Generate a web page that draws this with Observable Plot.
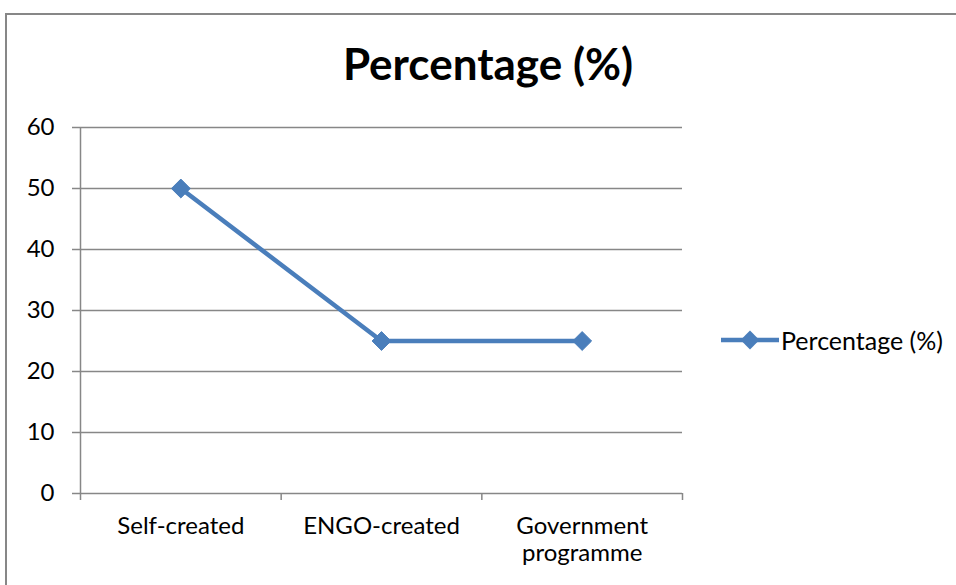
<!DOCTYPE html>
<html>
<head>
<meta charset="utf-8">
<script src="https://cdn.jsdelivr.net/npm/d3@7"></script>
<script src="https://cdn.jsdelivr.net/npm/@observablehq/plot@0.6"></script>
<style>
  html, body { margin: 0; padding: 0; background: #fff; }
  #wrap { position: relative; width: 956px; height: 585px; overflow: hidden; font-family: Lato, "Open Sans", sans-serif; }
  #frame { position: absolute; left: 5px; top: 13px; width: 980px; height: 620px; border: 2px solid #878787; box-sizing: border-box; }
  #title { position: absolute; left: 0; width: 976px; top: 41px; text-align: center; font-weight: bold; font-size: 44px; line-height: 1; color: #000; }
  #chart { position: absolute; left: 0; top: 0; }
  #legend { position: absolute; left: 720px; top: 326px; height: 28px; display: flex; align-items: center; font-size: 25px; color: #000; }
  #legend span { margin-left: 1px; }
</style>
</head>
<body>
<div id="wrap">
  <div id="frame"></div>
  <div id="title">Percentage (%)</div>
  <div id="chart"></div>
  <div id="legend"></div>
</div>
<script>
const categories = ["Self-created", "ENGO-created", "Government\nprogramme"];
const seriesName = "Percentage (%)";
const values = [50, 25, 25];
const yTicks = [0, 10, 20, 30, 40, 50, 60];

const data = categories.map((c, i) => ({category: c, index: i, value: values[i]}));
const boundaries = d3.range(-0.5, categories.length, 1);

const blue = "#4a7ebb";
const gray = "#878787";

const chart = Plot.plot({
  width: 956,
  height: 585,
  marginLeft: 80,
  marginRight: 274,
  marginTop: 127,
  marginBottom: 92,
  style: {fontFamily: "Lato, 'Open Sans', sans-serif", fontSize: "24px", color: "#000", background: "transparent", overflow: "visible"},
  x: {type: "linear", domain: [-0.5, categories.length - 0.5], axis: null},
  y: {domain: [0, 60], axis: null},
  marks: [
    Plot.gridY(yTicks.filter(d => d > 0), {stroke: gray, strokeOpacity: 1, strokeWidth: 1.5}),
    Plot.ruleY([0], {stroke: gray, strokeWidth: 1.5}),
    Plot.ruleX([-0.5], {stroke: gray, strokeWidth: 1.5}),
    Plot.axisY({ticks: yTicks, tickSize: 8, tickPadding: 18, stroke: gray, strokeWidth: 1.5, strokeOpacity: 1, fontSize: 24, fill: "#000", label: null}),
    Plot.axisX({ticks: boundaries, tickSize: 7, tickFormat: () => "", stroke: gray, strokeWidth: 1.5, strokeOpacity: 1, label: null}),
    Plot.axisX({ticks: categories.map((_, i) => i), tickSize: 0, tickPadding: 21, tickFormat: i => categories[i], fontSize: 24, lineHeight: 1.13, fill: "#000", label: null}),
    Plot.line(data, {x: "index", y: "value", stroke: blue, strokeWidth: 4.5}),
    Plot.dot(data, {x: "index", y: "value", symbol: "diamond2", r: 8.5, fill: blue, stroke: blue, strokeWidth: 1})
  ]
});
document.getElementById("chart").appendChild(chart);

// legend
const lg = document.getElementById("legend");
const ns = "http://www.w3.org/2000/svg";
const sw = document.createElementNS(ns, "svg");
sw.setAttribute("width", 60); sw.setAttribute("height", 28);
const ln = document.createElementNS(ns, "line");
ln.setAttribute("x1", 1); ln.setAttribute("x2", 59); ln.setAttribute("y1", 14); ln.setAttribute("y2", 14);
ln.setAttribute("stroke", blue); ln.setAttribute("stroke-width", 4.5);
sw.appendChild(ln);
const dm = document.createElementNS(ns, "path");
dm.setAttribute("d", d3.symbol(d3.symbolDiamond2, Math.PI * 8.5 * 8.5)());
dm.setAttribute("transform", "translate(30,14)");
dm.setAttribute("fill", blue);
sw.appendChild(dm);
lg.appendChild(sw);
const tx = document.createElement("span");
tx.textContent = seriesName;
lg.appendChild(tx);
</script>
</body>
</html>
